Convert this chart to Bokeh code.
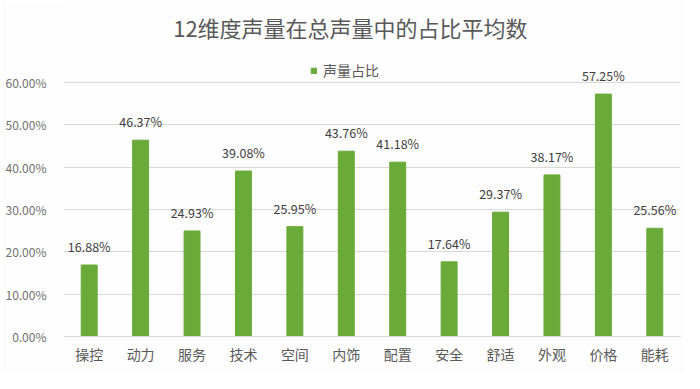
from bokeh.plotting import figure
from bokeh.models import FixedTicker, Legend, LegendItem, Label
from bokeh.embed import file_html
from bokeh.resources import INLINE
from bokeh.core.properties import value

title_text = "12维度声量在总声量中的占比平均数"
series_name = "声量占比"
categories = ["操控", "动力", "服务", "技术", "空间", "内饰", "配置", "安全", "舒适", "外观", "价格", "能耗"]
shares = [16.88, 46.37, 24.93, 39.08, 25.95, 43.76, 41.18, 17.64, 29.37, 38.17, 57.25, 25.56]
y_ticks = [0, 10, 20, 30, 40, 50, 60]
y_tick_labels = ["0.00%", "10.00%", "20.00%", "30.00%", "40.00%", "50.00%", "60.00%"]
value_labels = [f"{v:.2f}%" for v in shares]

FONT = "Noto Sans CJK SC"
GREEN = "#69AA39"
GRID = "#d9d9d9"
TXT = "#595959"

p = figure(
    x_range=categories, y_range=(0, 79.36),
    width=684, height=373,
    output_backend="svg", toolbar_location=None,
    min_border_left=63, min_border_right=4, min_border_top=0, min_border_bottom=37,
    background_fill_color="#fdfdfd", border_fill_color="#fdfdfd",
)
p.outline_line_color = None

title = Label(x=5.58, y=73.2, x_units="data", y_units="data", text=title_text,
              text_align="center", text_baseline="middle",
              text_font=FONT, text_font_size="22px", text_color=TXT)
p.add_layout(title)

bars = p.vbar(x=categories, top=shares, width=0.31, color=GREEN)
p.text(x=categories, y=shares, text=value_labels, y_offset=-9,
       text_align="center", text_baseline="bottom",
       text_font=value(FONT), text_font_size="12.5px", text_color="#404040")

p.xgrid.grid_line_color = None
p.ygrid.grid_line_color = GRID
p.ygrid.ticker = FixedTicker(ticks=y_ticks)

p.yaxis.ticker = FixedTicker(ticks=y_ticks)
p.yaxis.major_label_overrides = dict(zip(y_ticks, y_tick_labels))
p.yaxis.axis_line_color = None
p.yaxis.major_tick_line_color = None
p.yaxis.minor_tick_line_color = None
p.yaxis.major_label_standoff = 11
p.yaxis.major_label_text_font = FONT
p.yaxis.major_label_text_font_size = "12px"
p.yaxis.major_label_text_color = "#707070"

p.xaxis.axis_line_color = GRID
p.xaxis.major_tick_line_color = None
p.xaxis.minor_tick_line_color = None
p.xaxis.major_label_standoff = 1
p.xaxis.major_label_text_font = FONT
p.xaxis.major_label_text_font_size = "14px"
p.xaxis.major_label_text_color = TXT

legend = Legend(items=[LegendItem(label=series_name, renderers=[bars])],
                location=(247, 256), orientation="horizontal",
                glyph_width=7, glyph_height=7, label_standoff=6,
                label_height=14, padding=0, margin=0, spacing=0,
                border_line_color=None, background_fill_alpha=0,
                label_text_font=FONT, label_text_font_size="14px",
                label_text_color=TXT)
p.add_layout(legend)

open("out.html", "w").write(file_html(p, INLINE))
